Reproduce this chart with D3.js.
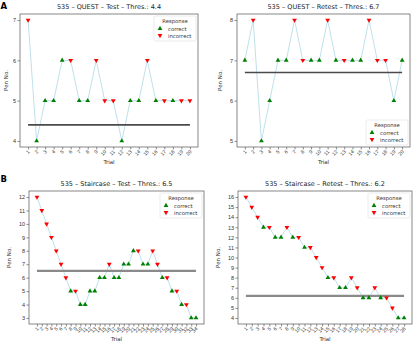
<!DOCTYPE html>
<html><head><meta charset="utf-8">
<script src="https://cdn.jsdelivr.net/npm/d3@7"></script>
<style>body{margin:0;background:#fff}svg{display:block;font-family:"DejaVu Sans",sans-serif}</style>
</head><body>
<svg id="c" width="416" height="345"></svg>
<script>
// ---- data ----
const questTestPen = [7,4,5,5,6,6,5,5,6,5,5,4,5,5,6,5,5,5,5,5];
const questTestResp = ["i","c","c","c","c","i","c","c","i","i","i","c","c","c","i","c","i","c","i","i"];
const questTestThr = 4.4;
const questRetestPen = [7,8,5,6,7,7,8,7,7,7,8,7,7,7,7,8,7,7,6,7];
const questRetestResp = ["c","i","c","c","c","c","i","i","c","c","i","c","i","c","c","i","i","i","c","c"];
const questRetestThr = 6.7;
const stairTestPen = [12,11,10,9,8,7,6,5,5,4,4,5,5,6,6,7,6,6,7,7,8,8,7,7,8,7,6,6,5,5,4,4,3,3];
const stairTestResp = ["i","i","i","i","i","i","i","c","i","c","c","c","c","c","c","i","c","c","c","c","c","i","c","c","i","i","c","i","c","i","c","i","c","c"];
const stairTestThr = 6.5;
const stairRetestPen = [16,15,14,13,13,12,12,13,12,12,11,11,10,9,8,8,7,7,8,7,6,6,7,6,6,5,4,4];
const stairRetestResp = ["i","i","i","c","i","c","c","i","c","i","c","i","i","i","c","i","c","c","i","i","c","c","i","c","i","i","c","c"];
const stairRetestThr = 6.2;
const titles = ["535 – QUEST – Test – Thres.: 4.4","535 – QUEST – Retest – Thres.: 6.7",
                "535 – Staircase – Test – Thres.: 6.5","535 – Staircase – Retest – Thres.: 6.2"];
const legendTitle = "Response";
const legendLabels = ["correct","incorrect"];

// ---- layout ----
const panels = [
  {pen:questTestPen, resp:questTestResp, thr:questTestThr, title:titles[0], box:[20,14,198,147], ylab:8, legend:"tr", thrColor:"#4a4a4a", thrW:1.6},
  {pen:questRetestPen, resp:questRetestResp, thr:questRetestThr, title:titles[1], box:[237,14,410,147], ylab:222, legend:"br", thrColor:"#4a4a4a", thrW:1.6},
  {pen:stairTestPen, resp:stairTestResp, thr:stairTestThr, title:titles[2], box:[29,191,204,324], ylab:11, legend:"tr", thrColor:"#8a8a8a", thrW:2.2},
  {pen:stairRetestPen, resp:stairRetestResp, thr:stairRetestThr, title:titles[3], box:[238,191,412,324], ylab:220, legend:"tr", thrColor:"#8a8a8a", thrW:2.2},
];
const svg = d3.select("#c");
const green = "#008000", red = "#ff0000";
const tri = d3.symbol().type(d3.symbolTriangle).size(10);

panels.forEach(p => {
  const [x0,y0,x1,y1] = p.box;
  const n = p.pen.length;
  const xm = (n-1)*0.05;
  const x = d3.scaleLinear().domain([1-xm, n+xm]).range([x0,x1]);
  const ymin = d3.min(p.pen), ymax = d3.max(p.pen);
  const ym = (ymax-ymin)*0.05;
  const y = d3.scaleLinear().domain([ymin-ym, ymax+ym]).range([y1,y0]);
  const g = svg.append("g");
  const xa = d3.axisBottom(x).tickValues(d3.range(1,n+1)).tickSize(2.5).tickFormat(d3.format("d"));
  const gx = g.append("g").attr("transform",`translate(0,${y1})`).call(xa);
  gx.selectAll("text").attr("font-size",5).attr("fill","#333")
    .attr("text-anchor","end").attr("dy",null).attr("y",0)
    .attr("transform","translate(1.5,5) rotate(-45)");
  const ya = d3.axisLeft(y).tickValues(d3.range(ymin,ymax+1)).tickSize(2.5).tickFormat(d3.format("d"));
  const gy = g.append("g").attr("transform",`translate(${x0},0)`).call(ya);
  gy.selectAll("text").attr("font-size",5.5).attr("fill","#333").attr("x",-4);
  g.selectAll(".domain").remove();
  g.selectAll(".tick line").attr("stroke","#444").attr("stroke-width",0.6);
  g.append("rect").attr("x",x0).attr("y",y0).attr("width",x1-x0).attr("height",y1-y0)
    .attr("fill","none").attr("stroke","#555").attr("stroke-width",0.7);
  g.append("path").datum(p.pen).attr("fill","none").attr("stroke","#add8e6").attr("stroke-width",0.8)
    .attr("d", d3.line().x((d,i)=>x(i+1)).y(d=>y(d)));
  g.append("line").attr("x1",x(1)).attr("x2",x(n)).attr("y1",y(p.thr)).attr("y2",y(p.thr))
    .attr("stroke",p.thrColor).attr("stroke-width",p.thrW);
  g.selectAll(".m").data(p.pen).enter().append("path")
    .attr("d",tri)
    .attr("transform",(d,i)=>`translate(${x(i+1)},${y(d)}) rotate(${p.resp[i]==="c"?0:180})`)
    .attr("fill",(d,i)=>p.resp[i]==="c"?green:red);
  g.append("text").attr("x",(x0+x1)/2).attr("y",y0-5).attr("text-anchor","middle")
    .attr("font-size",6.5).attr("fill","#222").text(p.title);
  g.append("text").attr("x",(x0+x1)/2).attr("y",y1+17).attr("text-anchor","middle")
    .attr("font-size",5.5).attr("fill","#333").text("Trial");
  g.append("text").attr("transform",`translate(${p.ylab},${(y0+y1)/2}) rotate(-90)`).attr("text-anchor","middle")
    .attr("font-size",5.5).attr("fill","#333").text("Pen No.");
  const lw = 42, lh = 25;
  const lx = x1 - lw - 2, ly = p.legend==="tr" ? y0+2 : y1 - lh - 2;
  const lg = g.append("g").attr("transform",`translate(${lx},${ly})`);
  lg.append("rect").attr("width",lw).attr("height",lh).attr("rx",1.5).attr("fill","#fff")
    .attr("stroke","#ddd").attr("stroke-width",0.6);
  lg.append("text").attr("x",lw/2).attr("y",7).attr("text-anchor","middle").attr("font-size",5.3).attr("fill","#333").text(legendTitle);
  legendLabels.forEach((t,k)=>{
    lg.append("path").attr("d",tri).attr("transform",`translate(6,${12.5+k*7}) rotate(${k===0?0:180})`).attr("fill",k===0?green:red);
    lg.append("text").attr("x",14).attr("y",14.5+k*7).attr("font-size",5.3).attr("fill","#333").text(t);
  });
});
svg.append("text").attr("x",0.5).attr("y",9).attr("font-size",8.5).attr("font-weight","bold").text("A");
svg.append("text").attr("x",0.5).attr("y",182).attr("font-size",8.5).attr("font-weight","bold").text("B");
</script>
</body></html>
